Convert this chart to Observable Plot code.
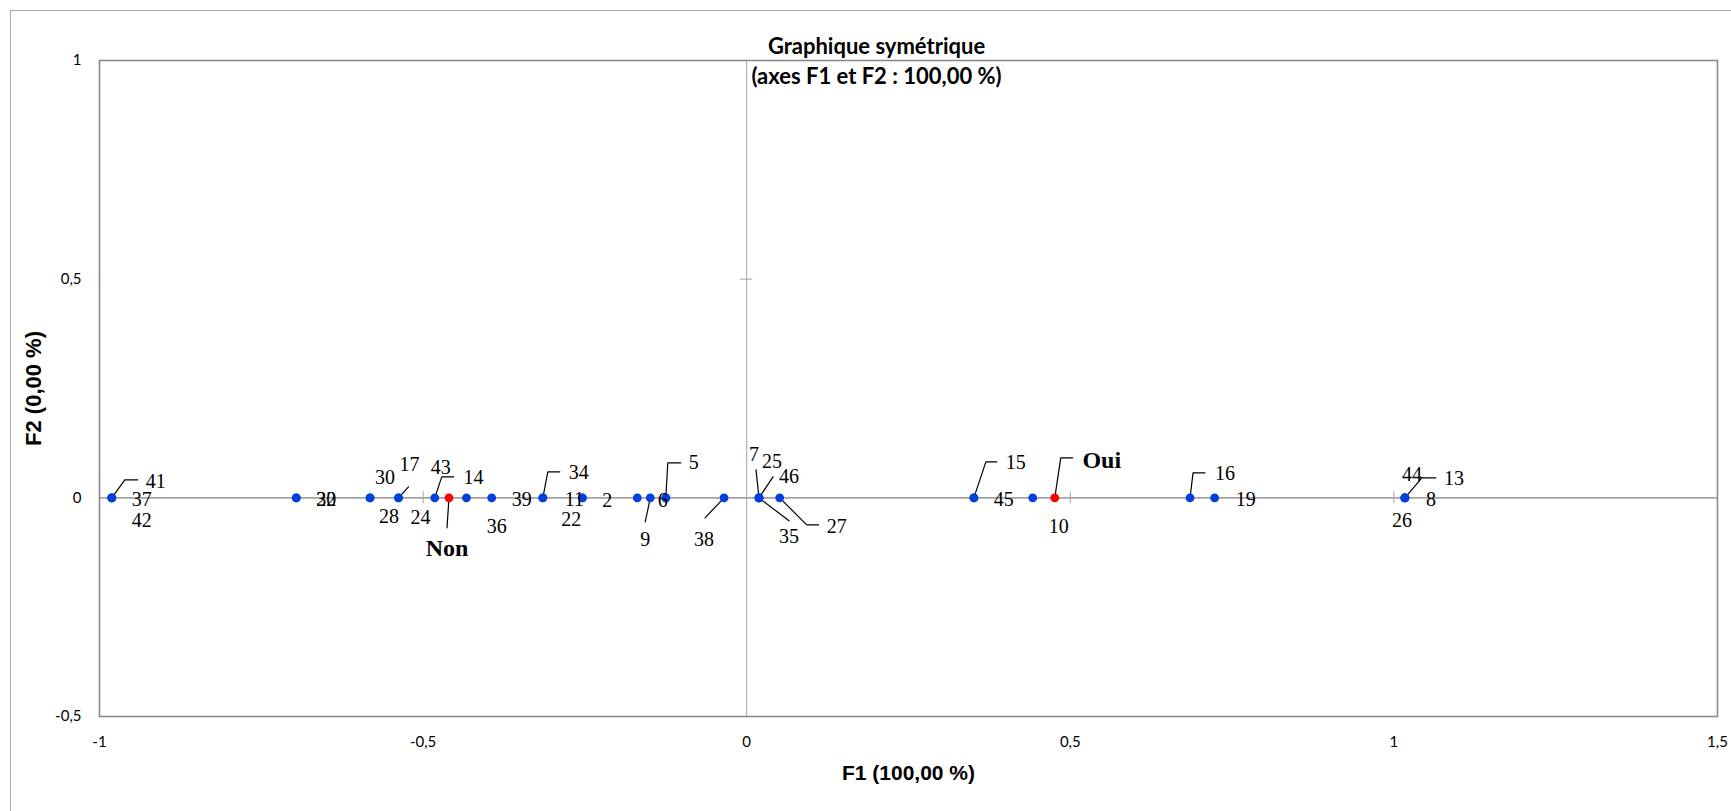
<!DOCTYPE html>
<html><head><meta charset="utf-8">
<script src="https://cdn.jsdelivr.net/npm/d3@7"></script>
<script src="https://cdn.jsdelivr.net/npm/@observablehq/plot@0.6"></script>
<style>
html,body{margin:0;padding:0;background:#fff;overflow:hidden;}
#wrap{position:relative;width:1731px;height:811px;overflow:hidden;}
#border{position:absolute;left:10px;top:10px;width:1800px;height:900px;border:1.5px solid #a9a9a9;}
#chart{position:absolute;left:0;top:0;}
</style></head><body><div id="wrap"><div id="border"></div><div id="chart"></div></div>
<script>
// ---- data ----
const xTicks = [-1, -0.5, 0, 0.5, 1, 1.5];
const yTicks = [-0.5, 0, 0.5, 1];
const titleText = "Graphique symétrique";
const subtitleText = "(axes F1 et F2 : 100,00 %)";
const xLabel = "F1 (100,00 %)";
const yLabel = "F2 (0,00 %)";

// observations (F1, F2)
const obsLabels = ["41","37","42","32","20","30","28","17","24","43","14","36","34","39","11","22","2","9","5","6","38","7","25","46","35","27","15","45","10","16","19","44","13","8","26"];
const obsF1 = [-0.981,-0.981,-0.981,-0.696,-0.696,-0.582,-0.582,-0.538,-0.538,-0.482,-0.433,-0.394,-0.315,-0.315,-0.254,-0.254,-0.169,-0.149,-0.125,-0.125,-0.035,0.019,0.019,0.019,0.019,0.051,0.351,0.351,0.442,0.685,0.723,1.017,1.017,1.017,1.017];
const obsF2 = [0,0,0,0,0,0,0,0,0,0,0,0,0,0,0,0,0,0,0,0,0,0,0,0,0,0,0,0,0,0,0,0,0,0,0];

// categories (F1, F2)
const catLabels = ["Non","Oui"];
const catF1 = [-0.460, 0.476];
const catF2 = [0, 0];

// ---- label placement (pixel offsets from the point; leader vertices in px) ----
const labelLayout = {
  "41": {dx:44, dy:-16, leader:[[0,0],[13,-18],[26,-18]]},
  "37": {dx:30, dy:2},
  "42": {dx:30, dy:23},
  "32": {dx:30, dy:2},
  "20": {dx:30, dy:2},
  "30": {dx:15, dy:-20},
  "28": {dx:19, dy:19},
  "17": {dx:11, dy:-33, leader:[[0,0],[10,-11]]},
  "24": {dx:22, dy:20},
  "43": {dx:6, dy:-30, leader:[[0,0],[7,-21],[19,-21]]},
  "14": {dx:7, dy:-20},
  "36": {dx:5, dy:29},
  "34": {dx:36, dy:-25, leader:[[0,0],[5,-26],[17,-26]]},
  "39": {dx:-21, dy:2},
  "11": {dx:-8, dy:2},
  "22": {dx:-11, dy:22},
  "2":  {dx:-30, dy:3},
  "9":  {dx:-5, dy:42, leader:[[0,0],[-5,24]]},
  "5":  {dx:28, dy:-35, leader:[[0,0],[2,-35],[15,-35]]},
  "6":  {dx:-3, dy:3},
  "38": {dx:-20, dy:42, leader:[[0,0],[-19,20]]},
  "7":  {dx:-5, dy:-43, leader:[[0,0],[-3,-28]]},
  "25": {dx:13, dy:-36},
  "46": {dx:30, dy:-21, leader:[[0,0],[14,-21]]},
  "35": {dx:30, dy:39, leader:[[0,0],[30,23]]},
  "27": {dx:57, dy:29, leader:[[0,0],[27,27],[39,27]]},
  "15": {dx:42, dy:-35, leader:[[0,0],[12,-36],[23,-36]]},
  "45": {dx:30, dy:2},
  "10": {dx:26, dy:29},
  "16": {dx:35, dy:-24, leader:[[0,0],[3,-25],[15,-25]]},
  "19": {dx:31, dy:2},
  "44": {dx:7, dy:-23},
  "13": {dx:49, dy:-19, leader:[[0,0],[17,-20],[31,-20]]},
  "8":  {dx:26, dy:2},
  "26": {dx:-3, dy:23},
  "Non": {dx:-2, dy:50, leader:[[0,0],[-2,30]]},
  "Oui": {dx:47, dy:-38, leader:[[0,0],[6,-40],[18,-40]]}
};

// ---- chart geometry ----
const W = 1731, H = 811;
const mL = 99, mR = 14, mT = 60, mB = 95;
const xDomain = [-1, 1.5], yDomain = [-0.5, 1];
const kx = (W - mL - mR) / (xDomain[1] - xDomain[0]);
const ky = (H - mT - mB) / (yDomain[1] - yDomain[0]);

const obs = obsLabels.map((l, i) => ({label: l, f1: obsF1[i], f2: obsF2[i]}));
const cats = catLabels.map((l, i) => ({label: l, f1: catF1[i], f2: catF2[i]}));

function labelRows(rows) {
  return rows.map(d => {
    const L = labelLayout[d.label] || {dx: 0, dy: 0};
    return {text: d.label, x: d.f1 + L.dx / kx, y: d.f2 - L.dy / ky};
  });
}
function leaderRows(rows) {
  const out = [];
  rows.forEach(d => {
    const L = labelLayout[d.label];
    if (L && L.leader) L.leader.forEach(v => out.push({id: d.label, x: d.f1 + v[0] / kx, y: d.f2 - v[1] / ky}));
  });
  return out;
}

const fmt = v => String(v).replace(".", ",");
const gray = "#a3a3a3";

const plot = Plot.plot({
  width: W, height: H,
  marginLeft: mL, marginRight: mR, marginTop: mT, marginBottom: mB,
  style: {fontFamily: "Lato, sans-serif", fontSize: "15px", color: "#000", background: "transparent", overflow: "visible"},
  x: {domain: xDomain, ticks: xTicks, tickFormat: fmt, tickSize: 0, tickPadding: 20, label: null},
  y: {domain: yDomain, ticks: yTicks, tickFormat: fmt, tickSize: 0, tickPadding: 18, label: null},
  marks: [
    Plot.ruleY([0], {stroke: gray, strokeWidth: 1.6}),
    Plot.ruleX([0], {stroke: gray, strokeWidth: 1}),
    Plot.ruleX(xTicks.filter(v => v !== 0), {y1: 0, y2: 0, insetTop: -6, insetBottom: -6, stroke: gray, strokeWidth: 1}),
    Plot.ruleY(yTicks.filter(v => v !== 0), {x1: 0, x2: 0, insetLeft: -6, insetRight: -6, stroke: gray, strokeWidth: 1}),
    Plot.frame({stroke: "#8a8a8a", strokeWidth: 1.6}),
    Plot.line(leaderRows(obs.concat(cats)), {x: "x", y: "y", z: "id", stroke: "#000", strokeWidth: 1.2}),
    Plot.dot(obs, {x: "f1", y: "f2", r: 4.4, fill: "#0040dd", stroke: "none"}),
    Plot.dot(cats, {x: "f1", y: "f2", r: 4.4, fill: "#ff0000", stroke: "none"}),
    Plot.text(labelRows(obs), {x: "x", y: "y", text: "text", fontFamily: "Liberation Serif", fontSize: 20, fill: "#000", textAnchor: "middle", lineAnchor: "middle"}),
    Plot.text(labelRows(cats), {x: "x", y: "y", text: "text", fontFamily: "Liberation Serif", fontSize: 24, fontWeight: "bold", fill: "#000", textAnchor: "middle", lineAnchor: "middle"}),
    Plot.text([titleText], {text: d => d, frameAnchor: "top", dx: -32, dy: -13.5, fontFamily: "Lato", fontWeight: "bold", fontSize: 22, textAnchor: "middle", lineAnchor: "middle", fill: "#000"}),
    Plot.text([subtitleText], {text: d => d, frameAnchor: "top", dx: -32, dy: 16, fontFamily: "Lato", fontWeight: "bold", fontSize: 22, textAnchor: "middle", lineAnchor: "middle", fill: "#000"}),
    Plot.text([xLabel], {text: d => d, frameAnchor: "bottom", dy: 57, fontFamily: "Liberation Sans", fontWeight: "bold", fontSize: 21, textAnchor: "middle", lineAnchor: "middle", fill: "#000"}),
    Plot.text([yLabel], {text: d => d, frameAnchor: "left", dx: -66, rotate: -90, fontFamily: "Liberation Sans", fontWeight: "bold", fontSize: 22, textAnchor: "middle", lineAnchor: "middle", fill: "#000"})
  ]
});
document.getElementById("chart").appendChild(plot);
</script></body></html>
